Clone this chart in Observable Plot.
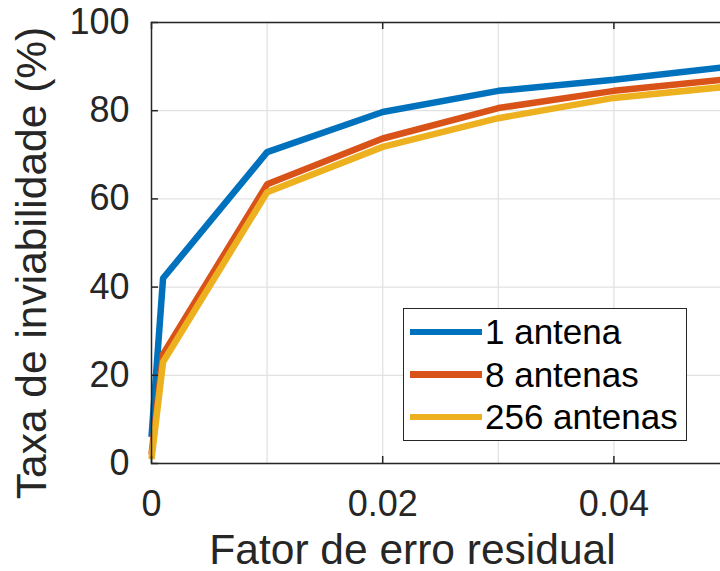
<!DOCTYPE html>
<html><head><meta charset="utf-8">
<script src="https://cdn.jsdelivr.net/npm/d3@7"></script>
<script src="https://cdn.jsdelivr.net/npm/@observablehq/plot@0.6"></script>
<style>
html,body{margin:0;padding:0;background:#fff;overflow:hidden;width:720px;height:571px}
#wrap{position:relative;width:720px;height:571px;overflow:hidden;font-family:"Liberation Sans",Arial,sans-serif}
#wrap svg{position:absolute;left:0;top:0;max-width:none !important}
#legend{position:absolute;left:403px;top:308px;width:284px;height:133px;border:1.3px solid #262626;background:#fff;box-sizing:border-box}
.row{position:absolute;left:6px;height:40px;display:flex;align-items:center;font-size:35px;color:#000;white-space:nowrap}
.sw{width:72px;height:6.5px;margin-right:3px}
</style></head><body><div id="wrap"><div id="legend"></div></div>
<script>
const factor = [0, 0.001, 0.01, 0.02, 0.03, 0.04, 0.05];
const series = ["1 antena", "8 antenas", "256 antenas"];
const antena1 = [6, 42, 70.6, 79.7, 84.5, 87, 90];
const antenas8 = [2, 24.8, 63.3, 73.7, 80.6, 84.5, 87.2];
const antenas256 = [1, 23, 61.5, 71.8, 78.3, 82.9, 85.5];
const colors = ["#0072BD", "#D95319", "#EDB120"];
const xTicks = [0, 0.02, 0.04];
const xGrid = [0.01, 0.02, 0.03, 0.04, 0.05];
const yTicks = [0, 20, 40, 60, 80, 100];
const xLabel = "Fator de erro residual";
const yLabel = "Taxa de inviabilidade (%)";

const values = [antena1, antenas8, antenas256];
const data = series.flatMap((s, i) => factor.map((x, j) => ({x, y: values[i][j], s})));

const W = 740, H = 571, mL = 151, mR = 11, mT = 22, mB = 108;
const pw = W - mL - mR, ph = H - mT - mB;
const ink = "#262626";

const plot = Plot.plot({
  width: W, height: H,
  marginLeft: mL, marginRight: mR, marginTop: mT, marginBottom: mB,
  style: {fontFamily: "'Liberation Sans', Arial, sans-serif", background: "transparent", overflow: "visible", maxWidth: "none"},
  x: {domain: [0, 0.05]},
  y: {domain: [0, 100]},
  color: {domain: series, range: colors},
  marks: [
    Plot.gridX(xGrid, {stroke: "#e2e2e2", strokeOpacity: 1, strokeWidth: 1.3}),
    Plot.gridY(yTicks, {stroke: "#e2e2e2", strokeOpacity: 1, strokeWidth: 1.3}),
    Plot.line(data, {x: "x", y: "y", z: "s", stroke: "s", strokeWidth: 6.5, strokeLinejoin: "miter", strokeLinecap: "butt"}),
    Plot.frame({stroke: ink, strokeWidth: 1.5}),
    Plot.tickX(xTicks, {x: d => d, insetTop: ph - 7, stroke: ink, strokeWidth: 1.5}),
    Plot.tickX(xTicks, {x: d => d, insetBottom: ph - 7, stroke: ink, strokeWidth: 1.5}),
    Plot.tickY(yTicks, {y: d => d, insetRight: pw - 7, stroke: ink, strokeWidth: 1.5}),
    Plot.axisX({ticks: xTicks, tickSize: 0, tickPadding: 27, fontSize: 36, fill: ink, tickFormat: d => String(d), label: null}),
    Plot.axisY({ticks: yTicks, tickSize: 0, tickPadding: 22, fontSize: 36, fill: ink, tickFormat: d => String(d), label: null}),
    Plot.text([xLabel], {frameAnchor: "bottom", textAnchor: "middle", lineAnchor: "top", dy: 70, dx: -28, fontSize: 42.5, fill: ink}),
    Plot.text([yLabel], {frameAnchor: "left", textAnchor: "middle", rotate: -90, lineAnchor: "middle", dx: -119, dy: 20, fontSize: 42.5, fill: ink})
  ]
});
const wrap = document.getElementById("wrap");
wrap.insertBefore(plot, wrap.firstChild);

const legend = document.getElementById("legend");
series.forEach((s, i) => {
  const row = document.createElement("div");
  row.className = "row";
  row.style.top = (3 + i * 42.5) + "px";
  const sw = document.createElement("span");
  sw.className = "sw";
  sw.style.background = colors[i];
  const t = document.createElement("span");
  t.textContent = s;
  row.appendChild(sw); row.appendChild(t);
  legend.appendChild(row);
});
</script>
</body></html>
